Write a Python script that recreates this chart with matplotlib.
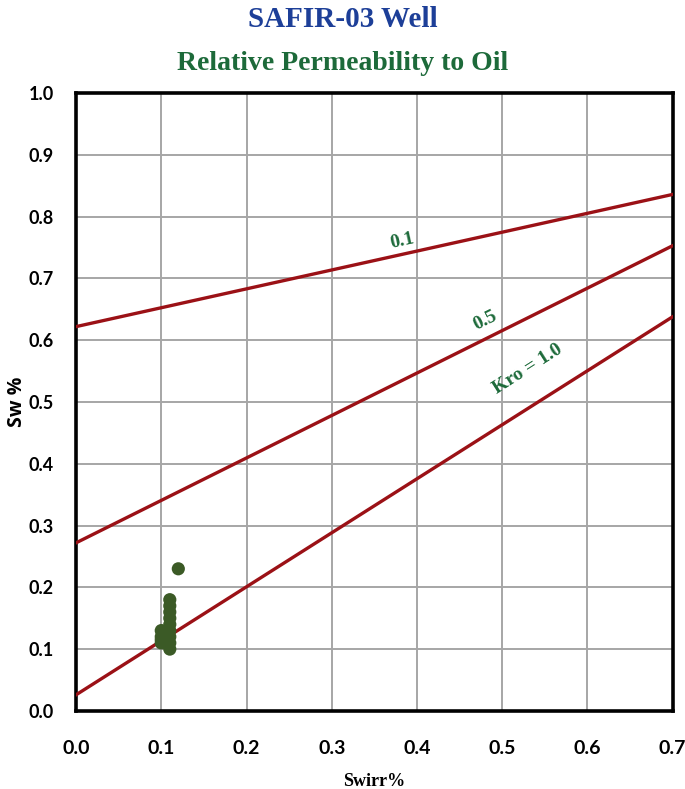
import matplotlib
matplotlib.use("Agg")
import matplotlib.pyplot as plt
import numpy as np

# Kro lines: Sw at Swirr = 0 and Swirr = 0.7
swirr_ends = [0.0, 0.7]
kro_labels = ["0.1", "0.5", "Kro = 1.0"]
sw_start = [0.622, 0.272, 0.026]
sw_end = [0.836, 0.753, 0.638]

# well data points
swirr_pts = [0.12, 0.11, 0.11, 0.11, 0.11, 0.11, 0.11, 0.11, 0.11, 0.11,
             0.10, 0.10, 0.10, 0.10]
sw_pts = [0.23, 0.18, 0.17, 0.16, 0.15, 0.14, 0.13, 0.12, 0.11, 0.10,
          0.13, 0.12, 0.115, 0.11]

xticks = [0.0, 0.1, 0.2, 0.3, 0.4, 0.5, 0.6, 0.7]
yticks = [0.0, 0.1, 0.2, 0.3, 0.4, 0.5, 0.6, 0.7, 0.8, 0.9, 1.0]

line_col = "#9b1116"
txt_green = "#1d6a3a"

fig = plt.figure(figsize=(6.85, 7.89), dpi=100)
ax = fig.add_axes([0.111, 0.099, 0.871, 0.783])

for s0, s1 in zip(sw_start, sw_end):
    ax.plot(swirr_ends, [s0, s1], color=line_col, lw=2.4, zorder=3)

ax.scatter(swirr_pts, sw_pts, s=90, color="#3b5a26", zorder=4, edgecolors="none")

# labels along lines
lab_pos = [(0.383, 0.76, 12.5), (0.48, 0.632, 26.5), (0.53, 0.553, 32.5)]
for txt, (lx, ly, rot) in zip(kro_labels, lab_pos):
    ax.text(lx, ly, txt, rotation=rot, color=txt_green, fontsize=14,
            fontweight="bold", family="Liberation Serif", ha="center", va="center",
            rotation_mode="anchor", zorder=5)

ax.set_xlim(0, 0.7)
ax.set_ylim(0, 1.0)
ax.set_xticks(xticks)
ax.set_yticks(yticks)
ax.set_xticklabels(["%.1f" % v for v in xticks], family="Lato",
                   fontweight="bold", fontsize=14)
ax.set_yticklabels(["%.1f" % v for v in yticks], family="Lato",
                   fontweight="bold", fontsize=13)
ax.tick_params(length=0, pad=16)
ax.tick_params(axis="x", pad=21)
ax.grid(True, color="#a6a6a6", lw=1.4)
ax.set_axisbelow(True)
for sp in ax.spines.values():
    sp.set_linewidth(2.6)
    sp.set_color("black")

ax.set_xlabel("Swirr%", family="Liberation Serif", fontweight="bold", fontsize=13)
ax.xaxis.set_label_coords(0.5, -0.1)
ax.set_ylabel("Sw %", family="Open Sans", fontweight="bold", fontsize=14)
ax.yaxis.set_label_coords(-0.082, 0.5)

fig.text(0.5, 0.975, "SAFIR-03 Well", ha="center", va="center", color="#1d3f98",
         family="Liberation Serif", fontweight="bold", fontsize=21)
fig.text(0.5, 0.92, "Relative Permeability to Oil", ha="center", va="center",
         color=txt_green, family="Liberation Serif", fontweight="bold", fontsize=20)

fig.savefig("out.png", dpi=100)
